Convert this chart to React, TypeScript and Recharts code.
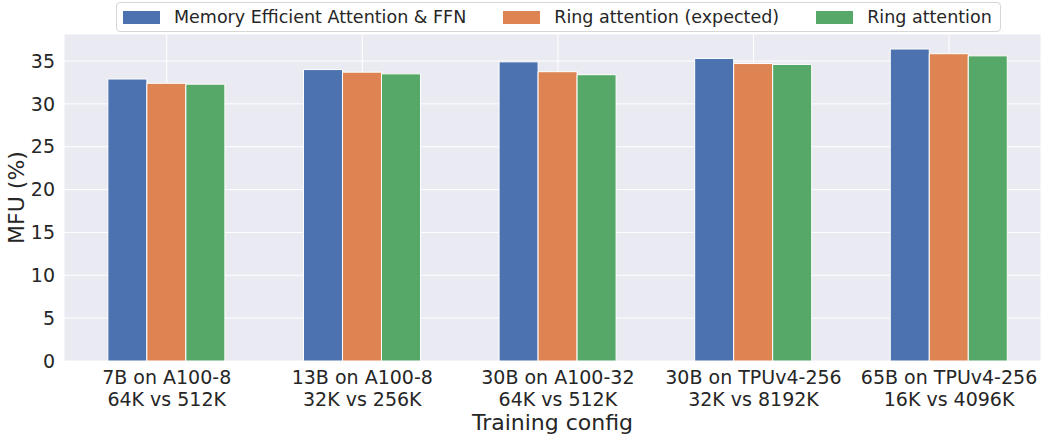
import React from 'react';
import { BarChart, Bar, XAxis, YAxis, CartesianGrid, Label } from 'recharts';

const modelConfigs = ['7B on A100-8', '13B on A100-8', '30B on A100-32', '30B on TPUv4-256', '65B on TPUv4-256'];
const contextSizes = ['64K vs 512K', '32K vs 256K', '64K vs 512K', '32K vs 8192K', '16K vs 4096K'];
const memEfficient = [32.9, 34.0, 34.9, 35.3, 36.4];
const ringExpected = [32.4, 33.7, 33.75, 34.7, 35.85];
const ringActual = [32.3, 33.5, 33.4, 34.6, 35.6];
const yTicks = [0, 5, 10, 15, 20, 25, 30, 35];

const seriesNames = ['Memory Efficient Attention & FFN', 'Ring attention (expected)', 'Ring attention'];
const seriesKeys = ['mem', 'expected', 'ring'];
const seriesColors = ['#4C72B0', '#DD8452', '#55A868'];

const FONT = '"DejaVu Sans", sans-serif';
const TEXT = '#262626';

const data = modelConfigs.map((m, i) => ({
  idx: i,
  mem: memEfficient[i],
  expected: ringExpected[i],
  ring: ringActual[i],
}));

const CategoryTick = (props: any) => {
  const { x, y, payload } = props;
  const i = payload.value;
  return (
    <text x={x} textAnchor="middle" fontSize={19} fill={TEXT} fontFamily={FONT}>
      <tspan x={x} y={y + 23}>{modelConfigs[i]}</tspan>
      <tspan x={x} y={y + 45}>{contextSizes[i]}</tspan>
    </text>
  );
};

function ChartLegend() {
  return (
    <div
      style={{
        position: 'absolute',
        left: 116,
        top: 2,
        width: 885,
        height: 30,
        boxSizing: 'border-box',
        border: '1px solid #d6d6d6',
        borderRadius: 4,
        background: '#fff',
        display: 'flex',
        alignItems: 'center',
        paddingLeft: 6,
        fontFamily: FONT,
        fontSize: 17.5,
        color: TEXT,
        whiteSpace: 'nowrap',
      }}
    >
      {seriesNames.map((name, i) => (
        <div key={name} style={{ display: 'flex', alignItems: 'center', marginRight: i < 2 ? 37 : 0 }}>
          <span style={{ width: 37, height: 13, background: seriesColors[i], marginRight: 14, display: 'inline-block' }} />
          <span>{name}</span>
        </div>
      ))}
    </div>
  );
}

export default function App() {
  return (
    <div style={{ position: 'absolute', left: 0, top: 0, width: 1042, height: 437, background: '#fff' }}>
      <BarChart
        width={1042}
        height={437}
        data={data}
        margin={{ top: 34, right: 1, bottom: 0, left: 0 }}
        barGap={0}
        barSize={39}
      >
        <CartesianGrid fill="#EAEAF2" stroke="#fff" strokeWidth={1} />
        <XAxis
          dataKey="idx"
          type="number"
          domain={[-0.525, 4.47]}
          ticks={[0, 1, 2, 3, 4]}
          allowDataOverflow
          axisLine={false}
          tickLine={false}
          tickSize={0}
          tickMargin={0}
          height={76}
          tick={<CategoryTick />}
          interval={0}
        >
          <Label
            content={(p: any) => {
              const vb = p.viewBox;
              return (
                <text x={vb.x + vb.width / 2} y={vb.y + 69} textAnchor="middle" fontSize={22} fill={TEXT} fontFamily={FONT}>
                  Training config
                </text>
              );
            }}
          />
        </XAxis>
        <YAxis
          width={64}
          domain={[0, 38.15]}
          ticks={yTicks}
          allowDataOverflow
          axisLine={false}
          tickLine={false}
          tickSize={0}
          tickMargin={9}
          tick={{ fontSize: 19, fill: TEXT, fontFamily: FONT }}
        >
          <Label
            content={(p: any) => {
              const vb = p.viewBox;
              const cx = vb.x + 16;
              const cy = vb.y + vb.height / 2;
              return (
                <text
                  x={cx}
                  y={cy}
                  transform={`rotate(-90 ${cx} ${cy})`}
                  textAnchor="middle"
                  dominantBaseline="central"
                  fontSize={22}
                  fill={TEXT}
                  fontFamily={FONT}
                >
                  MFU (%)
                </text>
              );
            }}
          />
        </YAxis>
        {seriesKeys.map((k, i) => (
          <Bar key={k} dataKey={k} name={seriesNames[i]} fill={seriesColors[i]} stroke="#fff" strokeWidth={1} isAnimationActive={false} />
        ))}
      </BarChart>
      <ChartLegend />
    </div>
  );
}
